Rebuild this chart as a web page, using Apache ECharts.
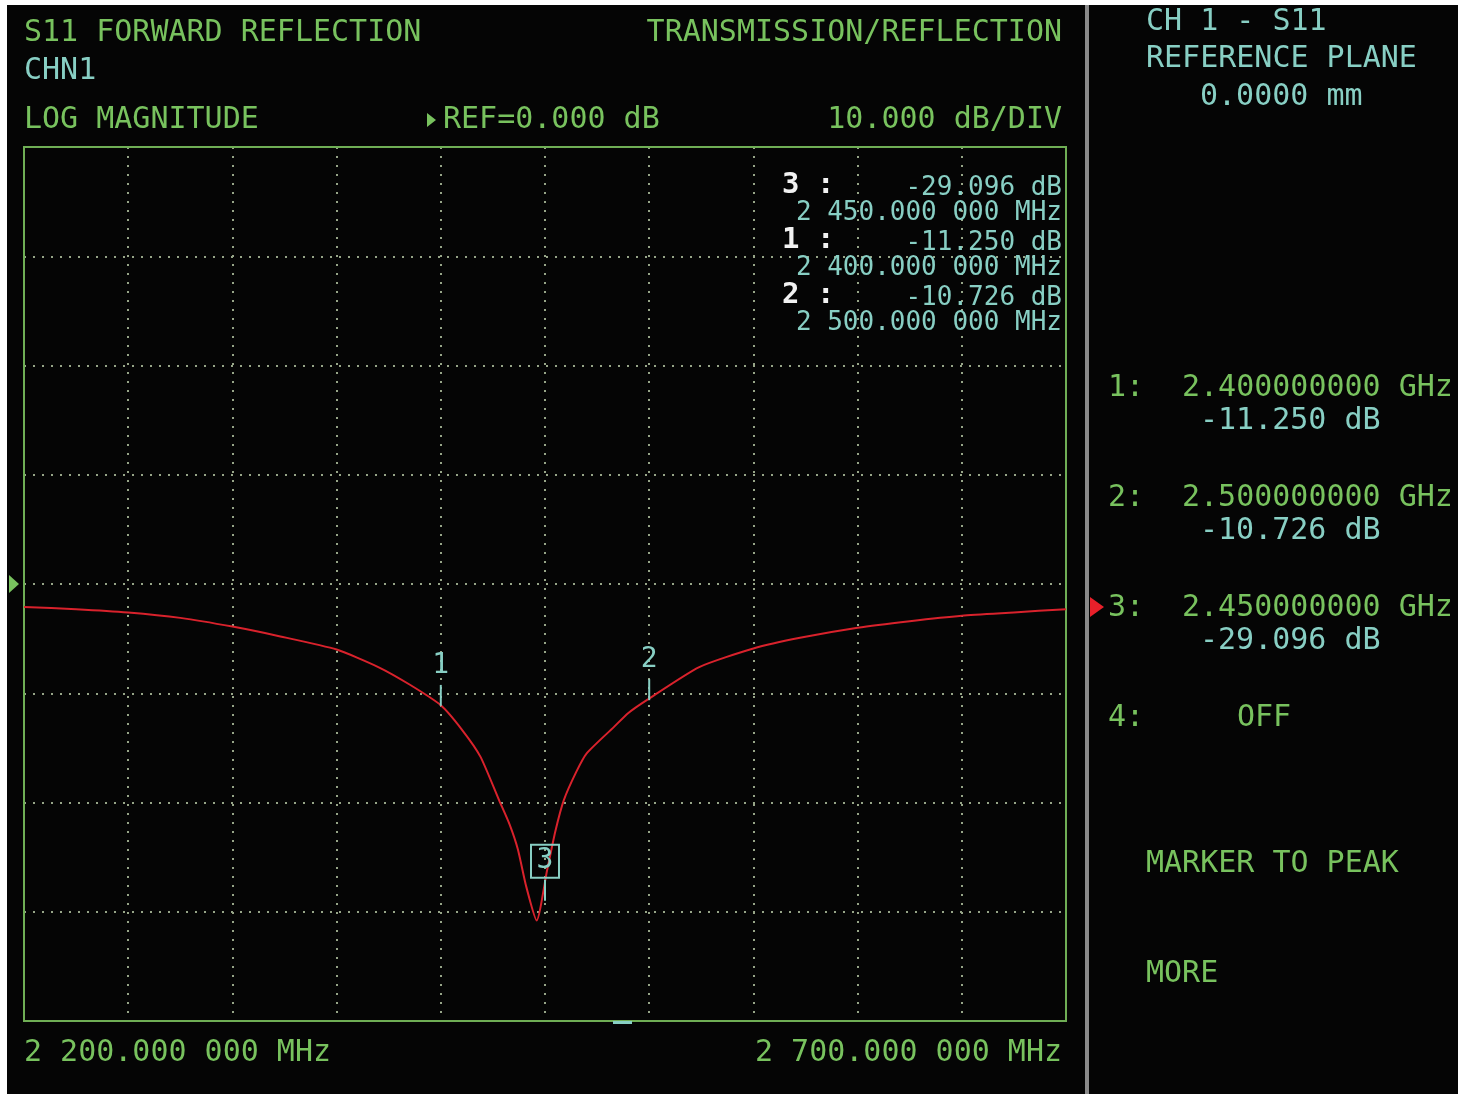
<!DOCTYPE html>
<html><head><meta charset="utf-8">
<script src="https://cdn.jsdelivr.net/npm/echarts@6/dist/echarts.min.js"></script>
<style>html,body{margin:0;padding:0;background:#fff}#c{width:1466px;height:1097px}</style>
</head><body><div id="c"></div>
<script>
// ---- data ----
const freqMHz = [2200,2225,2250,2275,2300,2323,2350,2370,2385,2400,2410,2419,2428,2433,2437,2441,2446,2451,2455,2459,2465,2470,2483,2490,2499,2524,2550,2573,2600,2625,2650,2675,2700];
const s11dB   = [-2.1,-2.3,-2.6,-3.1,-3.9,-4.8,-6.0,-7.6,-9.2,-11.1,-13.3,-15.8,-19.8,-22.0,-24.3,-27.7,-30.8,-26.2,-22.6,-19.8,-17.2,-15.5,-13.1,-11.8,-10.6,-7.6,-5.9,-4.9,-4.0,-3.4,-2.9,-2.6,-2.3];
const markerIds   = [1, 2, 3];
const markerFreq  = [2400, 2500, 2450];
const markerDb    = [-11.250, -10.726, -29.096];
const activeMarker = 3;
const xTicks = [2200, 2700];
const refLevel = 0, dbPerDiv = 10;

const GREEN = '#78c25e', CYAN = '#88cfc4', WHITE = '#f2f2f2', GRID = '#97a588';
const MONO = '"DejaVu Sans Mono", monospace';
const F = (s) => s + 'px ' + MONO;

function mhzStr(v){ // 2450 -> "2 450.000 000 MHz"
  const s = String(Math.floor(v));
  return s[0] + ' ' + s.slice(1) + '.000 000 MHz';
}
function ghzStr(v){ return (v/1000).toFixed(9) + ' GHz'; }
function dbStr(v){ return v.toFixed(3) + ' dB'; }

const chart = echarts.init(document.getElementById('c'), null, {renderer:'canvas'});
const T = (x, y, text, color, size, align, weight) => ({
  type:'text', x, y, z:10,
  style: {text, fill:color, font:(weight ? weight + ' ' : '') + F(size), textAlign:align||'left', align:align||'left', textVerticalAlign:'middle', verticalAlign:'middle'}
});

const graphics = [
  {type:'rect', shape:{x:7,y:5,width:1451,height:1089}, style:{fill:'#050505'}, z:-10},
  {type:'rect', shape:{x:1085,y:5,width:4,height:1089}, style:{fill:'#8a8a8a'}, z:1},
  T(24, 33, 'S11 FORWARD REFLECTION', GREEN, 30),
  T(1062, 33, 'TRANSMISSION/REFLECTION', GREEN, 30, 'right'),
  T(24, 71, 'CHN1', CYAN, 30),
  T(24, 120, 'LOG MAGNITUDE', GREEN, 30),
  {type:'polygon', shape:{points:[[427,113],[436,120],[427,127]]}, style:{fill:GREEN}, z:10},
  T(443, 120, 'REF=' + refLevel.toFixed(3) + ' dB', GREEN, 30),
  T(1062, 120, dbPerDiv.toFixed(3) + ' dB/DIV', GREEN, 30, 'right'),
  T(24, 1053, mhzStr(xTicks[0]), GREEN, 30),
  T(1062, 1053, mhzStr(xTicks[1]), GREEN, 30, 'right'),
  {type:'polygon', shape:{points:[[9,575],[19,584],[9,593]]}, style:{fill:GREEN}, z:10},
  {type:'rect', shape:{x:613,y:1021,width:19,height:3}, style:{fill:CYAN}, z:10},
  // right panel
  T(1146, 22, 'CH 1 - S11', CYAN, 30),
  T(1146, 59, 'REFERENCE PLANE', CYAN, 30),
  T(1200, 97, '0.0000 mm', CYAN, 30),
  T(1237, 718, 'OFF', GREEN, 30),
  T(1108, 718, '4:', GREEN, 30),
  T(1146, 864, 'MARKER TO PEAK', GREEN, 30),
  T(1146, 974, 'MORE', GREEN, 30),
  {type:'polygon', shape:{points:[[1090,597],[1104,607],[1090,617]]}, style:{fill:'#e8202a'}, z:10}
];
// marker readout in plot (order 3,1,2) and right panel
const readOrder = [2, 0, 1];
readOrder.forEach((mi, k) => {
  const y0 = 187 + k * 55;
  graphics.push(T(782, y0 - 2, markerIds[mi] + ' :', WHITE, 29, 'left', 'bold'));
  graphics.push(T(1062, y0 + 1, dbStr(markerDb[mi]), CYAN, 26, 'right'));
  graphics.push(T(1062, y0 + 26, mhzStr(markerFreq[mi]), CYAN, 26, 'right'));
});
markerIds.forEach((id, i) => {
  const y0 = 388 + i * 110;
  graphics.push(T(1108, y0, id + ':', GREEN, 30));
  graphics.push(T(1182, y0, ghzStr(markerFreq[i]), GREEN, 30));
  graphics.push(T(1200, y0 + 33, dbStr(markerDb[i]), CYAN, 30));
});

const trace = freqMHz.map((f, i) => [f, s11dB[i]]);
const markers = markerIds.map((id, i) => [markerFreq[i], markerDb[i], id]);

chart.setOption({
  backgroundColor: '#ffffff',
  animation: false,
  graphic: graphics,
  grid: {left:24, top:147, width:1042, height:874, show:true, borderColor:'#6fae55', borderWidth:2, backgroundColor:'transparent', z:3},
  xAxis: {type:'value', min:2200, max:2700, interval:50,
    axisLine:{show:false}, axisTick:{show:false}, axisLabel:{show:false},
    splitLine:{show:true, lineStyle:{color:GRID, width:2, type:[2,7]}}},
  yAxis: {type:'value', min:-40, max:40, interval:10,
    axisLine:{show:false}, axisTick:{show:false}, axisLabel:{show:false},
    splitLine:{show:true, lineStyle:{color:GRID, width:2, type:[2,7]}}},
  series: [
    {type:'line', data:trace, symbol:'none', smooth:0.2,
     lineStyle:{color:'#d9222c', width:2}, z:5},
    {type:'custom', data:markers, z:6,
     renderItem: function(params, api){
       const p = api.coord([api.value(0), api.value(1)]);
       const id = api.value(2);
       const ch = [
         {type:'line', shape:{x1:p[0], y1:p[1]-22, x2:p[0], y2:p[1]-1}, style:{stroke:CYAN, lineWidth:2}},
         {type:'text', x:p[0], y:p[1]-41, style:{text:String(id), fill:CYAN, font:F(28), align:'center', verticalAlign:'middle', textAlign:'center', textVerticalAlign:'middle'}}
       ];
       if (id === activeMarker) {
         ch.push({type:'rect', shape:{x:p[0]-14, y:p[1]-57, width:28, height:33}, style:{fill:'none', stroke:CYAN, lineWidth:2}});
       }
       return {type:'group', children:ch};
     }}
  ]
});
</script></body></html>
